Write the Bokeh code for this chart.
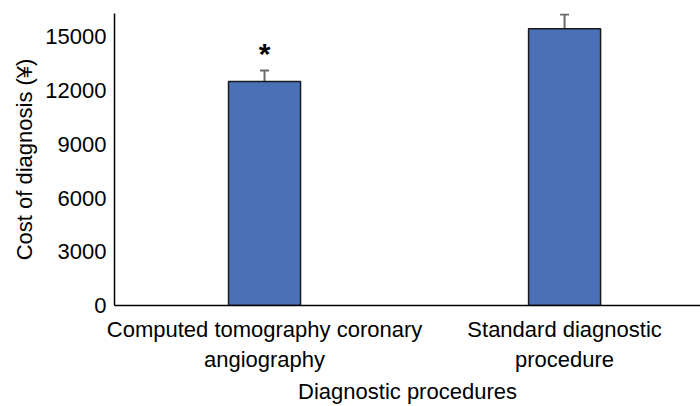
from bokeh.plotting import figure
from bokeh.models import ColumnDataSource, Whisker, TeeHead, FixedTicker, Range1d
from bokeh.core.properties import value
from bokeh.embed import file_html
from bokeh.resources import INLINE

categories = ["Computed tomography coronary\nangiography", "Standard diagnostic\nprocedure"]
positions = [0.5, 1.5]
means = [12500, 15450]
errors = [620, 800]
y_ticks = [0, 3000, 6000, 9000, 12000, 15000]
significance = ["*", ""]

FONT = "Liberation Sans"

src = ColumnDataSource(dict(
    x=positions,
    top=means,
    upper=[m + e for m, e in zip(means, errors)],
    lower=[m - e for m, e in zip(means, errors)],
    star_y=[m + e + 940 for m, e in zip(means, errors)],
    star=significance,
))

p = figure(width=700, height=406, output_backend="svg", toolbar_location=None,
           x_range=Range1d(0, 1.953), y_range=Range1d(0, 16300),
           min_border_left=114, min_border_top=13, min_border_right=0, min_border_bottom=94)
p.outline_line_color = None
p.grid.visible = False

p.vbar(x="x", top="top", bottom=0, width=0.24, source=src,
       fill_color="#4a70b8", line_color="#1a1a1a", line_width=1.5)

w = Whisker(base="x", upper="upper", lower="lower", source=src,
            line_color="#6b6b6b", line_width=2,
            upper_head=TeeHead(size=9, line_color="#6b6b6b", line_width=2),
            lower_head=TeeHead(size=9, line_color="#6b6b6b", line_width=2))
p.add_layout(w)

p.text(x="x", y="star_y", text="star", source=src, text_align="center",
       text_baseline="alphabetic", text_font=value(FONT), text_font_size="30px",
       text_font_style="bold", text_color="black")

p.xaxis.ticker = FixedTicker(ticks=positions)
p.xaxis.major_label_overrides = {pos: lab for pos, lab in zip(positions, categories)}
p.yaxis.ticker = FixedTicker(ticks=y_ticks)

for ax in (p.xaxis, p.yaxis):
    ax.major_tick_line_color = None
    ax.minor_tick_line_color = None
    ax.axis_line_color = "black"
    ax.axis_line_width = 1.5
    ax.major_label_text_font = FONT
    ax.major_label_text_font_size = "22px"
    ax.major_label_text_color = "black"
    ax.axis_label_text_font = FONT
    ax.axis_label_text_font_size = "22px"
    ax.axis_label_text_font_style = "normal"
    ax.axis_label_text_color = "black"

p.yaxis.major_label_standoff = 2
p.xaxis.major_label_standoff = 5
p.xaxis.axis_label = "Diagnostic procedures"
p.yaxis.axis_label = "Cost of diagnosis (¥)"
p.xaxis.axis_label_standoff = 4
p.yaxis.axis_label_standoff = 5

open("out.html", "w").write(file_html(p, INLINE))
